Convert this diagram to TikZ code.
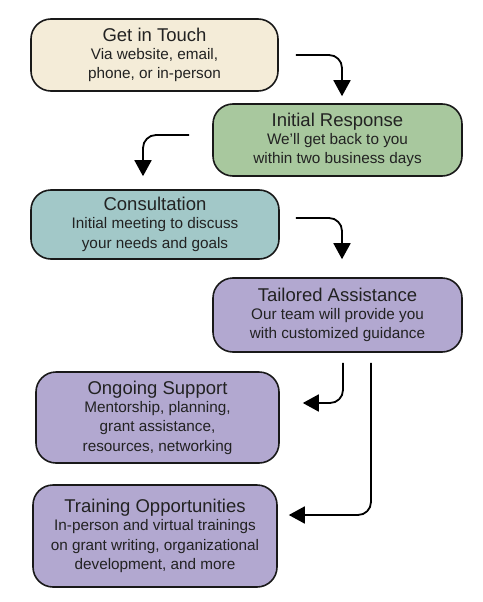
\documentclass[tikz,border=0pt]{standalone}
\usepackage{fontspec}
\setmainfont{Liberation Sans}
\usetikzlibrary{arrows.meta,calc}
\definecolor{creamfill}{RGB}{244,236,216}
\definecolor{greenfill}{RGB}{168,200,158}
\definecolor{tealfill}{RGB}{162,200,200}
\definecolor{purplefill}{RGB}{178,168,208}
\definecolor{txt}{RGB}{34,34,34}
\tikzset{
  stepbox/.style={draw=black!90, line width=1.6pt, rounded corners=20pt, align=center,
    text=txt, inner sep=1pt, font=\fontsize{15.3}{19.5}\selectfont},
  arr/.style={line width=1.8pt, rounded corners=13pt, -{Triangle[width=17pt,length=16pt]}},
}
\newcommand{\ttl}[1]{{\fontsize{18.5}{19.5}\selectfont #1}\\[-1.5pt]}
\begin{document}
\begin{tikzpicture}[x=1pt,y=-1pt]
\useasboundingbox (0,0) rectangle (482,602);
\node[stepbox, fill=creamfill, minimum width=247pt, minimum height=72pt] (b1) at (154.5,55)
  {\ttl{Get in Touch}Via website, email,\\phone, or in-person};
\node[stepbox, fill=greenfill, minimum width=249pt, minimum height=72pt] (b2) at (337.5,140)
  {\ttl{Initial Response}We'll get back to you\\within two business days};
\node[stepbox, fill=tealfill, minimum width=248pt, minimum height=69pt] (b3) at (155,224.5)
  {\ttl{Consultation}Initial meeting to discuss\\your needs and goals};
\node[stepbox, fill=purplefill, minimum width=249pt, minimum height=74pt] (b4) at (337.5,315)
  {\ttl{Tailored Assistance}Our team will provide you\\with customized guidance};
\node[stepbox, fill=purplefill, minimum width=243pt, minimum height=91pt] (b5) at (157.5,417.5)
  {\ttl{Ongoing Support}Mentorship, planning,\\grant assistance,\\resources, networking};
\node[stepbox, fill=purplefill, minimum width=244pt, minimum height=102pt] (b6) at (155,536)
  {\ttl{Training Opportunities}In-person and virtual trainings\\on grant writing, organizational\\development, and more};
% connectors
\coordinate (a1s) at ($(b1.east)+(17,0)$);
\coordinate (a1e) at ($(b2.north)+(4.5,-7)$);
\draw[arr] (a1s) -| (a1e);
\coordinate (a2s) at ($(b2.west)+(-23,-5)$);
\coordinate (a2e) at ($(b3.north)+(-12,-13)$);
\draw[arr] (a2s) -| (a2e);
\coordinate (a3s) at ($(b3.east)+(16,-6.5)$);
\coordinate (a3e) at ($(b4.north)+(4.5,-18)$);
\draw[arr] (a3s) -| (a3e);
\coordinate (a4s) at ($(b4.south)+(5.5,10)$);
\coordinate (a4e) at ($(b5.east)+(23,-14.5)$);
\draw[arr] (a4s) |- (a4e);
\coordinate (a5s) at ($(b4.south)+(33.5,10)$);
\coordinate (a5e) at ($(b6.east)+(11,-21)$);
\draw[arr] (a5s) |- (a5e);
\end{tikzpicture}
\end{document}
